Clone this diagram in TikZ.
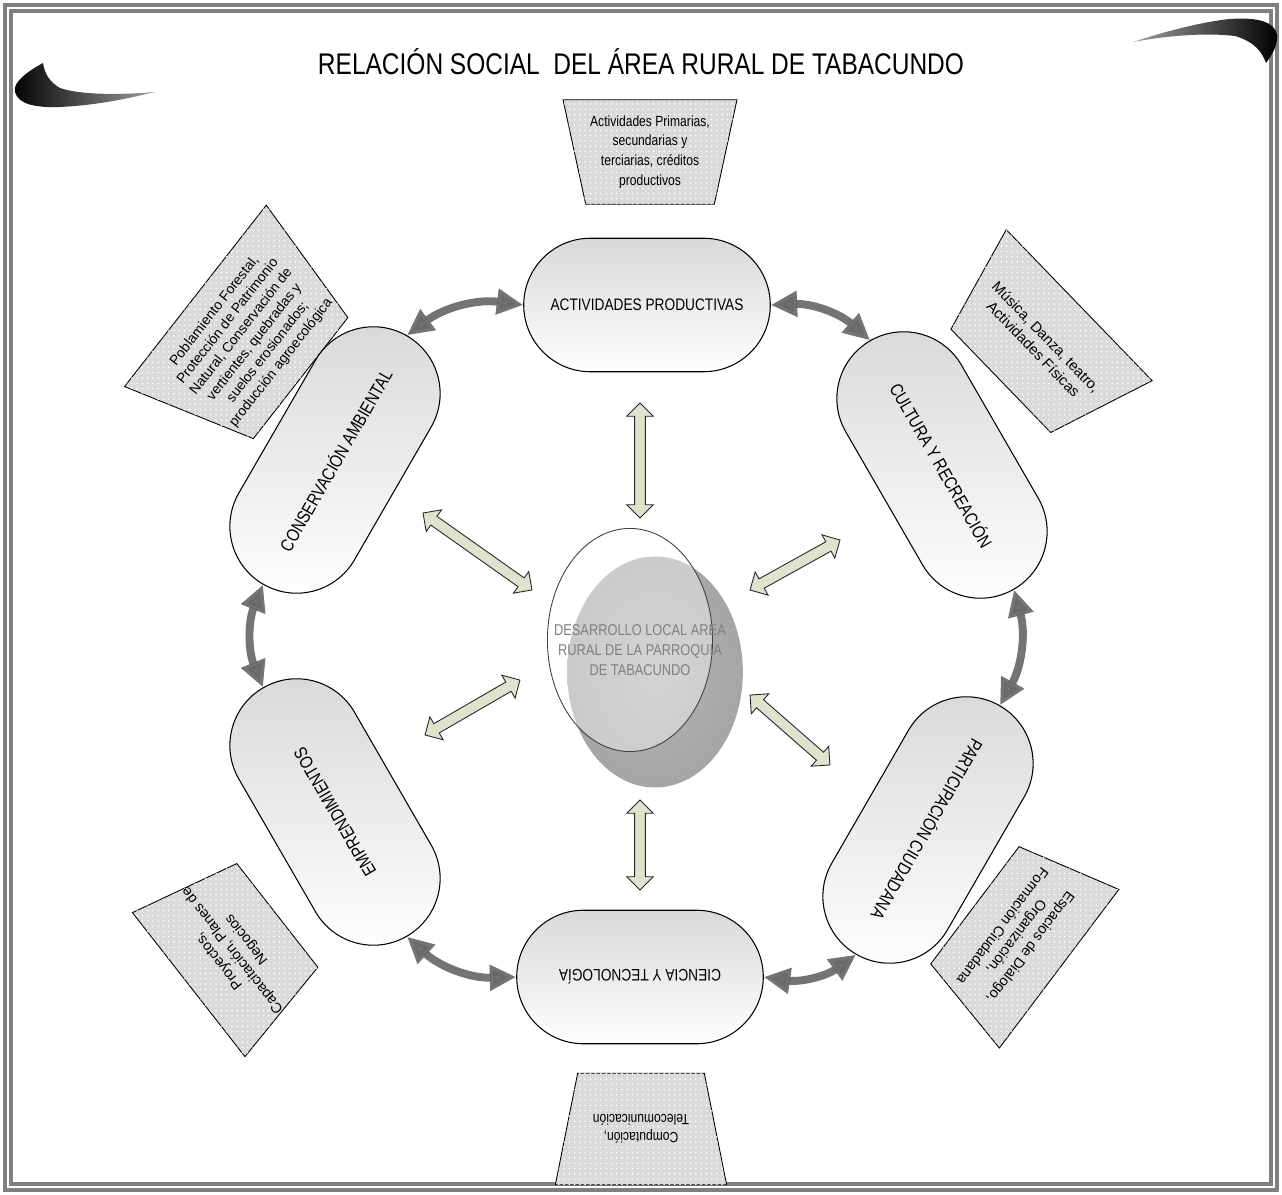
\documentclass[tikz,border=0pt]{standalone}
\usepackage{fontspec}
\setmainfont[FakeStretch=0.82]{Liberation Sans}
\newfontfamily\plainsans{Liberation Sans}
\usetikzlibrary{arrows.meta,calc,patterns,shapes.geometric,shapes.misc,shapes.arrows}

\definecolor{linkfill}{RGB}{221,227,205}
\definecolor{ringgray}{RGB}{104,104,104}
\definecolor{boxgray}{RGB}{218,218,218}

\tikzset{
  capsule/.style={rounded rectangle, draw, line width=0.6pt, minimum height=76pt,
    top color=black!15, bottom color=white, font=\fontsize{9.5}{11}\selectfont},
  slantcapsule/.style={capsule, minimum width=170pt, font=\fontsize{10.3}{12}\selectfont},
  ringarrow/.style={ringgray, line width=4.5pt, opacity=.92,
    {Triangle[length=15pt,width=14pt]}-{Triangle[length=15pt,width=14pt]}},
  hollow/.style={double arrow, draw=black!85, fill=linkfill, line width=0.5pt,
    inner sep=0pt, inner ysep=2.8pt, double arrow head extend=4.5pt},
  notebox/.style={trapezium, trapezium stretches=true, draw, line width=0.5pt, inner sep=2pt,
    fill=boxgray, postaction={pattern=dots, pattern color=white}},
  notetext/.style={align=center, inner sep=0pt, font=\plainsans\fontsize{8.2}{10}\selectfont},
}
% hollow double arrow between two named points
\newcommand\hollowlink[3]{\path let \p1=($(#3)-(#2)$) in
  node[hollow, rotate={atan2(\y1,\x1)}, minimum height={veclen(\x1,\y1)}] (#1) at ($(#2)!0.5!(#3)$) {};}

\begin{document}
\begin{tikzpicture}[x=0.02cm, y=-0.02cm]
			%%%%% START %%%%%
			\useasboundingbox (0,0) rectangle (1282,1195);
			
			\draw[gray, line width=2.2pt] (5,5) rectangle (1277,1190);
			\draw[gray, line width=2.2pt] (11,11) rectangle (1271,1184);
			
			\shade[left color=black, middle color=white, right color=gray!75]
			  (43,63) .. controls (30,70) and (12,82) .. (15,92) .. controls (18,104) and (35,108) .. (60,107)
			  .. controls (100,105) and (130,98) .. (155,92) .. controls (120,95) and (80,95) .. (60,88)
			  .. controls (50,82) and (45,75) .. cycle;
			\shade[left color=gray!75, middle color=white, right color=black]
			  (1133,42) .. controls (1160,33) and (1200,22) .. (1230,19) .. controls (1258,17) and (1275,22) .. (1277,35)
			  .. controls (1278,45) and (1272,55) .. (1266,63) .. controls (1262,52) and (1255,42) .. (1235,36)
			  .. controls (1200,32) and (1160,37) .. cycle;
			
			\node (title) at (641,62) {\fontsize{17}{20}\selectfont RELACIÓN SOCIAL\ \ DEL ÁREA RURAL DE TABACUNDO};
			
			% notes
			\node[notebox, trapezium left angle=100, trapezium right angle=100, minimum width=99pt, minimum height=59.5pt] (topnote) at (650,152) {};
			\node[notetext, font=\fontsize{8.4}{11.3}\selectfont] (toptext) at (topnote)
			  {Actividades Primarias,\\ secundarias y\\ terciarias, créditos\\ productivos};
			\node[notebox, rotate=180, trapezium left angle=100, trapezium right angle=100, minimum width=97.5pt, minimum height=63.5pt] (botnote) at (641,1129) {};
			\node[notetext, rotate=180, font=\fontsize{8.4}{10}\selectfont] (bottext) at (botnote)
			  {Computación,\\ Telecomunicación};
			\node[notebox, rotate=52, trapezium left angle=104, trapezium right angle=104, minimum width=131pt, minimum height=76pt] (ulnote) at (248,337) {};
			\node[notetext, rotate=52, font=\plainsans\fontsize{7.9}{9.6}\selectfont] (ultext) at (ulnote)
			  {Poblamiento Forestal,\\ Protección de Patrimonio\\ Natural, Conservación de\\ vertientes, quebradas y\\ suelos erosionados;\\ producción agroecológica};
			\node[notebox, rotate=-46, trapezium left angle=103, trapezium right angle=103, minimum width=119.5pt, minimum height=62pt] (urnote) at (1040,343) {};
			\node[notetext, rotate=-46, font=\plainsans\fontsize{8.4}{10}\selectfont] (urtext) at (urnote)
			  {Música, Danza, teatro,\\ Actividades Físicas};
			\node[notebox, rotate=128, trapezium left angle=101, trapezium right angle=101, minimum width=104pt, minimum height=64pt] (llnote) at (233,950) {};
			\node[notetext, rotate=128] (lltext) at (llnote)
			  {Proyectos,\\ Capacitación, Planes de\\ Negocios};
			\node[notebox, rotate=-127, trapezium left angle=100, trapezium right angle=100, minimum width=113pt, minimum height=60pt] (lrnote) at (1017,937) {};
			\node[notetext, rotate=-127] (lrtext) at (lrnote)
			  {Espacios de Dialogo,\\ Organización,\\ Formación Ciudadana};
			
			% ring
			\node[capsule, minimum width=147pt] (prod) at (647,305) {ACTIVIDADES PRODUCTIVAS};
			\node[slantcapsule, rotate=-60] (cult) at (942,465) {CULTURA Y RECREACIÓN};
			\node[slantcapsule, rotate=-120] (part) at (928,830) {PARTICIPACIÓN CIUDADANA};
			\node[capsule, minimum width=147pt, rotate=180] (cien) at (640,977) {CIENCIA Y TECNOLOGÍA};
			\node[slantcapsule, rotate=120] (empr) at (335,812) {EMPRENDIMIENTOS};
			\node[slantcapsule, rotate=60] (cons) at (335,460) {CONSERVACIÓN AMBIENTAL};
			
			\draw[ringarrow] (cons.east) to[bend left=22] (prod.west);
			\draw[ringarrow] (prod.east) to[bend left=22] (cult.west);
			\draw[ringarrow] (cult.east) to[bend left=22] (part.west);
			\draw[ringarrow] (part.east) to[bend left=22] (cien.west);
			\draw[ringarrow] (cien.east) to[bend left=22] (empr.west);
			\draw[ringarrow] (empr.east) to[bend left=22] (cons.west);
			
			% centre
			\node[ellipse, inner sep=0pt, inner color=gray!58, outer color=gray!70, minimum width=100pt, minimum height=131.5pt] (shadow) at (655,672) {};
			\node[ellipse, draw=black!75, line width=0.5pt, fill=white, fill opacity=.42, inner sep=0pt, minimum width=94pt, minimum height=127pt] (core) at (630,640) {};
			\node[align=center, text=black!50, font=\fontsize{8.9}{11.3}\selectfont] (coretext) at (640,650)
			  {DESARROLLO LOCAL AREA\\ RURAL DE LA PARROQUIA\\ DE TABACUNDO};
			
			\coordinate (n1) at (640,403); \coordinate (n2) at (640,518);
			\coordinate (s1) at (640,800); \coordinate (s2) at (640,890);
			\coordinate (nw1) at (423,513); \coordinate (nw2) at (532,590);
			\coordinate (ne1) at (750,590); \coordinate (ne2) at (840,540);
			\coordinate (sw1) at (425,735); \coordinate (sw2) at (520,680);
			\coordinate (se1) at (750,695); \coordinate (se2) at (830,765);
			\hollowlink{linkn}{n1}{n2}
			\hollowlink{links}{s1}{s2}
			\hollowlink{linknw}{nw1}{nw2}
			\hollowlink{linkne}{ne1}{ne2}
			\hollowlink{linksw}{sw1}{sw2}
			\hollowlink{linkse}{se1}{se2}
			%%%%% END %%%%%
\end{tikzpicture}
\end{document}
